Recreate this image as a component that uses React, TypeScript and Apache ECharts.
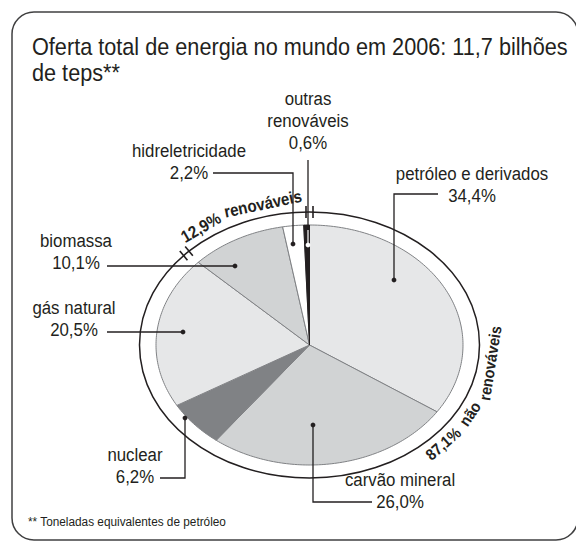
import React, { useEffect, useRef } from 'react';
import * as echarts from 'echarts';

const categories = ['petróleo e derivados', 'carvão mineral', 'nuclear', 'gás natural', 'biomassa', 'hidreletricidade', 'outras renováveis'];
const values = [34.4, 26.0, 6.2, 20.5, 10.1, 2.2, 0.6];
const renewable = [false, false, false, false, true, true, true];
const titleLines = ['Oferta total de energia no mundo em 2006: 11,7 bilhões', 'de teps**'];
const footnote = '** Toneladas equivalentes de petróleo';

const sliceColors = ['#e6e7e8', '#d1d3d4', '#808285', '#e6e7e8', '#d1d3d4', '#ffffff', '#231f20'];
const INK = '#231f20';
const FONT = "'Liberation Sans', Arial, Helvetica, sans-serif";

const CX = 309.5, CY = 345, RX = 153.5, RY = 120;
const RX2 = 170, RY2 = 133;

const fmt = (v: number) => v.toFixed(1).replace('.', ',') + '%';

function ringPoint(thDeg: number) {
  const t = (thDeg * Math.PI) / 180;
  const p = [CX + RX2 * Math.sin(t), CY - RY2 * Math.cos(t)];
  let nx = RY2 * Math.sin(t), ny = -RX2 * Math.cos(t);
  const nl = Math.hypot(nx, ny); nx /= nl; ny /= nl;
  let tx = RX2 * Math.cos(t), ty = RY2 * Math.sin(t);
  const tl = Math.hypot(tx, ty); tx /= tl; ty /= tl;
  return { p, n: [nx, ny], t: [tx, ty] };
}

export default function App() {
  const ref = useRef<HTMLDivElement>(null);
  useEffect(() => {
    if (!ref.current) return;
    const chart = echarts.init(ref.current, undefined, { renderer: 'svg' });
    const total = values.reduce((a, b) => a + b, 0);
    const cum: number[] = [0];
    values.forEach((v) => cum.push(cum[cum.length - 1] + v));
    const renewSum = values.filter((_, i) => renewable[i]).reduce((a, b) => a + b, 0);
    const nonRenewSum = total - renewSum;
    const boundaryDeg = (nonRenewSum / total) * 360;

    const els: any[] = [];
    const z = 10;
    // frame (its right side runs off the picture)
    els.push({ type: 'rect', z, shape: { x: 12, y: 12, width: 566, height: 528, r: 22 }, style: { fill: 'none', stroke: '#404041', lineWidth: 1.5 } });
    // title
    titleLines.forEach((ln, k) => {
      els.push({ type: 'text', z, x: 32, y: 55 + k * 26 - 8.4, scaleX: 0.903, style: { text: ln, fontFamily: FONT, fontSize: 24, fill: INK, align: 'left', verticalAlign: 'middle' } });
    });
    // footnote
    els.push({ type: 'text', z, x: 28, y: 522, scaleX: 0.875, style: { text: footnote, fontFamily: FONT, fontSize: 13.5, fill: INK, align: 'left', verticalAlign: 'middle' } });
    // ring
    els.push({ type: 'ellipse', z, shape: { cx: CX, cy: CY, rx: RX2, ry: RY2 }, style: { fill: 'none', stroke: INK, lineWidth: 1.5 } });
    // tick pairs at group boundaries
    [boundaryDeg, 360].forEach((deg) => {
      const { p, n, t } = ringPoint(deg);
      [-3.5, 3.5].forEach((s) => {
        const bx = p[0] + t[0] * s, by = p[1] + t[1] * s;
        els.push({ type: 'line', z, shape: { x1: bx - n[0] * 6, y1: by - n[1] * 6, x2: bx + n[0] * 6, y2: by + n[1] * 6 }, style: { stroke: INK, lineWidth: 1.6 } });
      });
    });
    // curved group labels, word by word along the ring
    const topWords: [string, number][] = [[fmt(renewSum), 323.1], ['renováveis', 345]];
    topWords.forEach(([w, deg]) => {
      const { p, n, t } = ringPoint(deg);
      els.push({ type: 'text', z, x: p[0] + n[0] * 5, y: p[1] + n[1] * 5, rotation: -Math.atan2(t[1], t[0]), scaleX: 0.89, style: { text: w, fontFamily: FONT, fontWeight: 'bold', fontSize: 17, fill: INK, align: 'center', verticalAlign: 'bottom' } });
    });
    const rightWords: [string, number][] = [[fmt(nonRenewSum), 132.3], ['não', 117.8], ['renováveis', 97]];
    rightWords.forEach(([w, deg]) => {
      const { p, n, t } = ringPoint(deg);
      els.push({ type: 'text', z, x: p[0] + n[0] * 4, y: p[1] + n[1] * 4, rotation: -Math.atan2(-t[1], -t[0]), scaleX: 0.9, style: { text: w, fontFamily: FONT, fontWeight: 'bold', fontSize: 16, fill: INK, align: 'center', verticalAlign: 'top' } });
    });

    // labels: index, centre x, first baseline, name lines, leader polyline, dot
    const labelSpecs: { i: number; x: number; y: number; name: string[]; leader: number[][]; dot: number[] }[] = [
      { i: 0, x: 472, y: 180, name: ['petróleo e derivados'], leader: [[438, 194], [394, 194], [394, 280]], dot: [394, 280] },
      { i: 1, x: 400, y: 486, name: ['carvão mineral'], leader: [[372, 502], [313, 502], [313, 425]], dot: [313, 425] },
      { i: 2, x: 135, y: 461, name: ['nuclear'], leader: [[160, 478], [185, 478], [185, 418]], dot: [185, 418] },
      { i: 3, x: 74, y: 314, name: ['gás natural'], leader: [[107, 332], [183, 332]], dot: [183, 332] },
      { i: 4, x: 76, y: 247, name: ['biomassa'], leader: [[107, 266], [235, 266]], dot: [235, 266] },
      { i: 5, x: 189, y: 157, name: ['hidreletricidade'], leader: [[213, 173], [293, 173], [293, 244]], dot: [293, 244] },
      { i: 6, x: 308, y: 105, name: ['outras', 'renováveis'], leader: [[308, 160], [308, 230]], dot: [308, 245] },
    ];
    labelSpecs.forEach((s) => {
      const lines = [...s.name, fmt(values[s.i])];
      lines.forEach((ln, k) => {
        els.push({ type: 'text', z, x: s.x, y: s.y + k * 22 - 6.6, scaleX: 0.885, style: { text: ln, fontFamily: FONT, fontSize: 19, fill: INK, align: 'center', verticalAlign: 'middle' } });
      });
      els.push({ type: 'polyline', z, shape: { points: s.leader }, style: { stroke: INK, lineWidth: 1.3, fill: 'none' } });
      if (s.i === 6) {
        els.push({ type: 'line', z, shape: { x1: 308, y1: 230, x2: 308, y2: 245 }, style: { stroke: '#ffffff', lineWidth: 1.2 } });
      }
      els.push({ type: 'circle', z: z + 1, shape: { cx: s.dot[0], cy: s.dot[1], r: 2.4 }, style: { fill: s.i === 6 ? '#ffffff' : INK } });
    });

    chart.setOption({
      animation: false,
      backgroundColor: '#ffffff',
      graphic: { elements: els },
      series: [
        {
          type: 'custom',
          coordinateSystem: 'none',
          silent: true,
          data: values.map((v, i) => ({ name: categories[i], value: [i, v] })),
          renderItem: (_params: any, api: any) => {
            const i = api.value(0) as number;
            const a0 = (cum[i] / total) * Math.PI * 2;
            const a1 = (cum[i + 1] / total) * Math.PI * 2;
            const n = Math.max(2, Math.ceil((a1 - a0) / (Math.PI / 180)));
            const pts: number[][] = [[CX, CY]];
            for (let k = 0; k <= n; k++) {
              const a = a0 + ((a1 - a0) * k) / n;
              pts.push([CX + RX * Math.sin(a), CY - RY * Math.cos(a)]);
            }
            return {
              type: 'polygon',
              shape: { points: pts },
              style: { fill: sliceColors[i], stroke: i === 6 ? INK : '#808285', lineWidth: 1, lineJoin: 'round' },
            };
          },
        },
      ],
    });
    return () => chart.dispose();
  }, []);
  return <div ref={ref} style={{ position: 'absolute', left: 0, top: 0, width: 576, height: 543 }} />;
}
